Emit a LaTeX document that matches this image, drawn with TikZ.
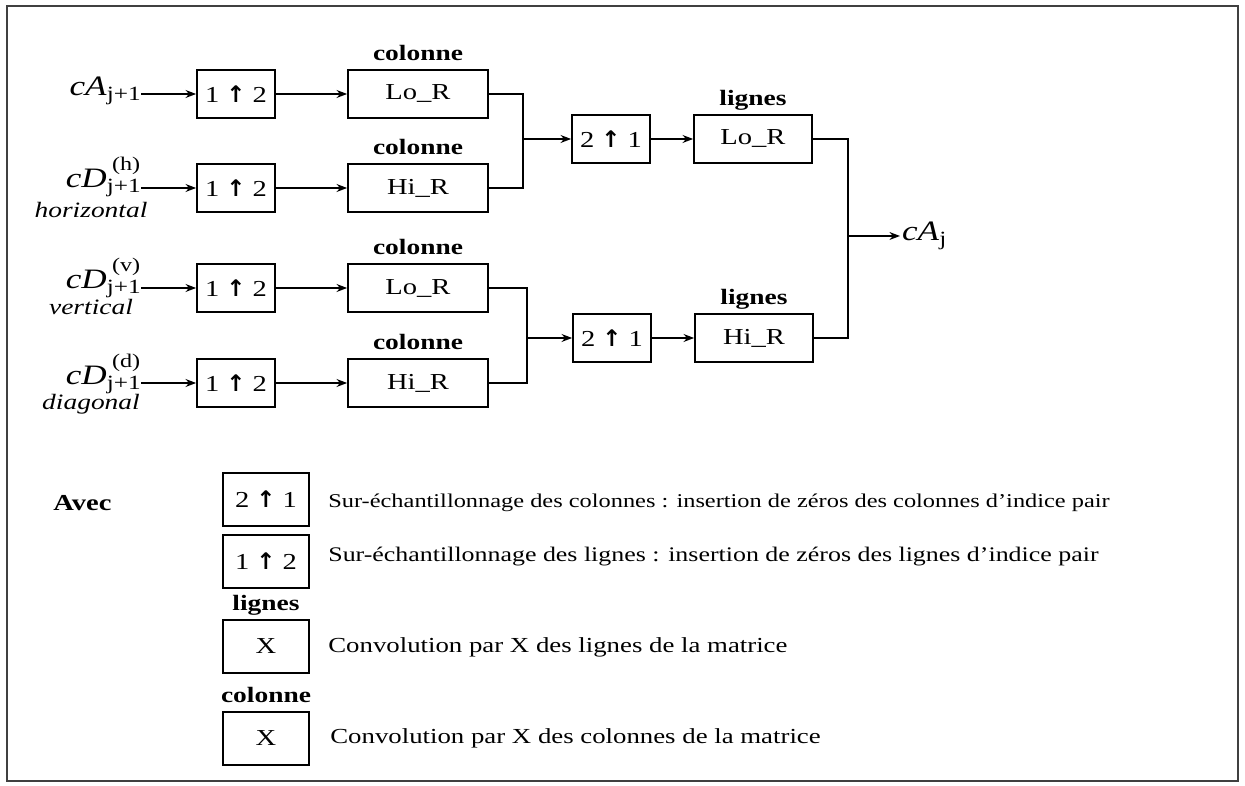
\documentclass[tikz,border=0pt]{standalone}
\usepackage{fontspec}
\setmainfont{Liberation Serif}[FakeStretch=1.25]
\newfontfamily\arrowfont{DejaVu Sans}
\usetikzlibrary{positioning,arrows.meta,calc}

% coefficient name: letters, superscript, subscript
\newcommand{\coefname}[3]{\textit{#1}\rlap{\kern3pt\raisebox{10pt}{\fontsize{11}{11}\selectfont #2}}%
  \raisebox{-2.5pt}{\fontsize{11.5}{12}\selectfont #3}}
\newcommand{\upar}{{\arrowfont\bfseries\fontsize{13}{13}\selectfont ↑}}

\begin{document}
\begin{tikzpicture}[x=0.02cm, y=-0.02cm,
    box/.style={draw, line width=1pt, inner sep=0pt, minimum height=0.96cm,
                font=\fontsize{13}{15}\selectfont},
    upbox/.style={box, minimum width=1.56cm},
    colbox/.style={box, minimum width=2.8cm},
    rowbox/.style={box, minimum width=2.36cm},
    keybox/.style={box, minimum width=1.72cm, minimum height=1.06cm},
    lab/.style={font=\fontsize{12.5}{14}\selectfont\bfseries, inner sep=0pt, text depth=0pt},
    inp/.style={font=\fontsize{16}{18}\selectfont, inner sep=0pt, anchor=base east},
    dir/.style={font=\fontsize{12.5}{14}\selectfont\itshape, inner sep=0pt, anchor=base},
    txt/.style={font=\fontsize{11.1}{13}\selectfont, inner sep=0pt, anchor=west},
    arr/.style={-{Stealth[length=6pt,width=4.5pt]}, line width=0.8pt},
    wire/.style={line width=0.8pt}
  ]
  \useasboundingbox (0,0) rectangle (1245,786);
  \draw[line width=1.1pt, black!75] (7,6) rectangle (1238,781);

  % --- inputs ---
  \node[inp] (in1) at (141,96) {\coefname{cA}{}{j+1}};
  \node[inp] (in2) at (141,188) {\coefname{cD}{(h)}{j+1}};
  \node[inp] (in3) at (141,289) {\coefname{cD}{(v)}{j+1}};
  \node[inp] (in4) at (141,385) {\coefname{cD}{(d)}{j+1}};
  \node[dir] (d2) at (91,218) {horizontal};
  \node[dir] (d3) at (91,315) {vertical};
  \node[dir] (d4) at (91,410) {diagonal};

  % --- upsampling of the lines ---
  \node[upbox] (u1) at (236,94) {1 \upar{} 2};
  \node[upbox] (u2) at (236,188) {1 \upar{} 2};
  \node[upbox] (u3) at (236,288) {1 \upar{} 2};
  \node[upbox] (u4) at (236,383) {1 \upar{} 2};

  % --- column filters ---
  \node[colbox] (c1) at (418,94) {Lo\_R};
  \node[colbox] (c2) at (418,188) {Hi\_R};
  \node[colbox] (c3) at (418,288) {Lo\_R};
  \node[colbox] (c4) at (418,383) {Hi\_R};
  \foreach \i in {1,...,4}{
    \node[lab, above=4.5pt of c\i] (c\i l) {colonne};
    \draw[arr] (in\i.east |- u\i.west) -- (u\i);
    \draw[arr] (u\i) -- (c\i);
  }

  % --- merge, upsampling of the columns ---
  \coordinate (j1) at (523,139);
  \coordinate (j2) at (527,338);
  \node[upbox] (m1) at (611,139) {2 \upar{} 1};
  \node[upbox] (m2) at (612,338) {2 \upar{} 1};
  \draw[wire] (c1.east) -| (j1) |- (c2.east);
  \draw[wire] (c3.east) -| (j2) |- (c4.east);
  \draw[arr] (j1) -- (m1);
  \draw[arr] (j2) -- (m2);

  % --- line filters ---
  \node[rowbox] (r1) at (753,139) {Lo\_R};
  \node[rowbox] (r2) at (754,338) {Hi\_R};
  \node[lab, above=4.5pt of r1] (r1l) {lignes};
  \node[lab, above=4.5pt of r2] (r2l) {lignes};
  \draw[arr] (m1) -- (r1);
  \draw[arr] (m2) -- (r2);

  % --- output ---
  \coordinate (j3) at (848,236);
  \node[font=\fontsize{16}{18}\selectfont, inner sep=1pt, anchor=west] (out) at (900,236) {\coefname{cA}{}{j}};
  \draw[wire] (r1.east) -| (j3) |- (r2.east);
  \draw[arr] (j3) -- (out);

  % --- legend ---
  \node[lab, font=\fontsize{13}{15}\selectfont\bfseries, anchor=base west] (avec) at (53,511) {Avec};
  \node[keybox] (k1) at (266,499.5) {2 \upar{} 1};
  \node[keybox] (k2) at (266,561.5) {1 \upar{} 2};
  \node[keybox] (k3) at (266,646.5) {X};
  \node[keybox] (k4) at (266,738.5) {X};
  \node[lab, above=4.5pt of k3] (k3l) {lignes};
  \node[lab, above=4.5pt of k4] (k4l) {colonne};
  \node[txt] (t1) at (328,503) {Sur-échantillonnage des colonnes : insertion de zéros des colonnes d’indice pair};
  \node[txt, font=\fontsize{11.8}{13}\selectfont] (t2) at (328,557) {Sur-échantillonnage des lignes : insertion de zéros des lignes d’indice pair};
  \node[txt, font=\fontsize{12.2}{14}\selectfont] (t3) at (328,647) {Convolution par X des lignes de la matrice};
  \node[txt, font=\fontsize{12.2}{14}\selectfont] (t4) at (330,738) {Convolution par X des colonnes de la matrice};
\end{tikzpicture}
\end{document}
